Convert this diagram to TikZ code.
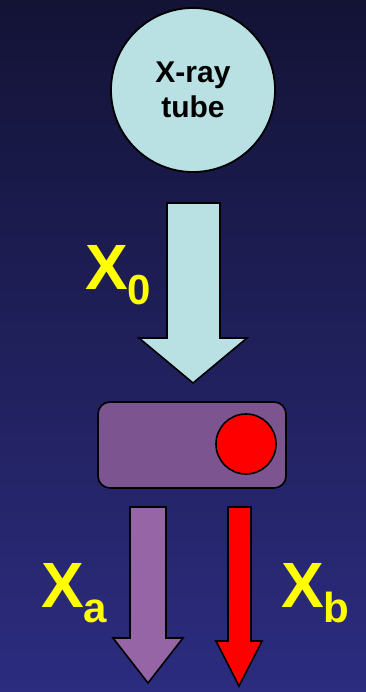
\documentclass[tikz,border=0pt]{standalone}
\usepackage{fontspec}
\setmainfont{Liberation Sans}
\definecolor{bgtop}{HTML}{131336}
\definecolor{bgbot}{HTML}{2C2C80}
\definecolor{tubefill}{HTML}{B9E0E3}
\definecolor{boxfill}{HTML}{7B5490}
\definecolor{arrowpurple}{HTML}{9565A5}
\definecolor{labyellow}{HTML}{FFFF00}
\tikzset{
  blockarrow/.style={draw=black, line width=1.6pt, line join=miter},
  biglabel/.style={text=labyellow, font=\bfseries\fontsize{64}{64}\selectfont, inner sep=0pt, anchor=base west},
}
\newcommand{\lblsub}[1]{\raisebox{-15pt}{\fontsize{42}{42}\selectfont #1}}
\begin{document}
\begin{tikzpicture}[x=1pt,y=-1pt]
\useasboundingbox (0,0) rectangle (366,692);
\shade[top color=bgtop, bottom color=bgbot] (0,0) rectangle (366,692);
% X-ray tube
\node[circle, draw=black, line width=1.8pt, fill=tubefill, minimum size=164pt, inner sep=0pt,
      align=center, font=\bfseries\fontsize{30}{35}\selectfont] (tube) at (193,90) {X-ray\\tube};
% X0 arrow
\draw[blockarrow, fill=tubefill] (167,203) -- (220,203) -- (220,338) -- (247,338) -- (193,383) -- (139,338) -- (167,338) -- cycle;
\node[biglabel] (x0) at (85,289) {X\lblsub{0}};
% sample box
\node[draw=black, line width=1.6pt, fill=boxfill, rounded corners=12pt, minimum width=188pt, minimum height=86pt, inner sep=0pt] (sample) at (192,445) {};
\node[circle, draw=black, line width=1.6pt, fill=red, minimum size=60pt, inner sep=0pt] (dot) at (246,444) {};
% Xa arrow
\draw[blockarrow, fill=arrowpurple] (130,507) -- (166,507) -- (166,638) -- (183,638) -- (148,683) -- (113,638) -- (130,638) -- cycle;
% Xb arrow
\draw[blockarrow, fill=red] (228,507) -- (251,507) -- (251,641) -- (262,641) -- (239,686) -- (216,641) -- (228,641) -- cycle;
\node[biglabel] (xa) at (41,607) {X\lblsub{a}};
\node[biglabel] (xb) at (281,607) {X\lblsub{b}};
\end{tikzpicture}
\end{document}
